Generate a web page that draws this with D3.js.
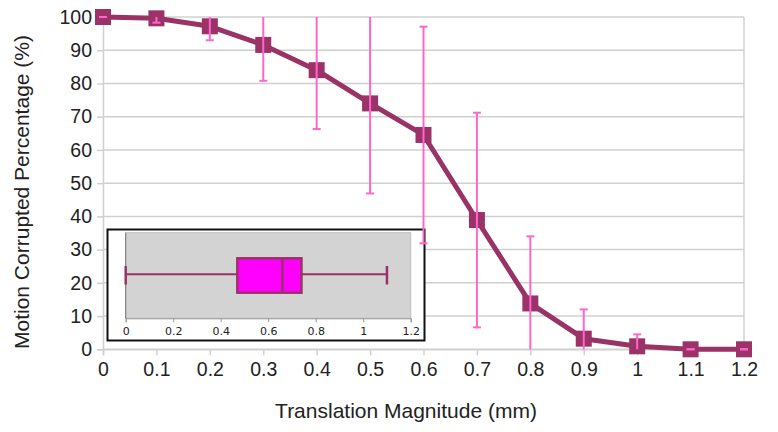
<!DOCTYPE html>
<html>
<head>
<meta charset="utf-8">
<script src="https://cdn.jsdelivr.net/npm/d3@7"></script>
<style>
  html, body { margin: 0; padding: 0; background: #fff; }
  svg { display: block; font-family: "Liberation Sans", Arial, sans-serif; }
</style>
</head>
<body>
<svg id="chart" width="778" height="432"></svg>
<script>
// ---- data ----
const magnitudes = [0, 0.1, 0.2, 0.3, 0.4, 0.5, 0.6, 0.7, 0.8, 0.9, 1.0, 1.1, 1.2];
const corruptedMean = [100, 99.6, 97.2, 91.6, 84.0, 74.0, 64.5, 38.9, 13.8, 3.2, 0.9, 0, 0];
const corruptedSD = [0, 1.3, 4.2, 10.8, 17.7, 27.1, 32.6, 32.3, 20.2, 8.8, 3.6, 0, 0];
const xTicks = [0, 0.1, 0.2, 0.3, 0.4, 0.5, 0.6, 0.7, 0.8, 0.9, 1, 1.1, 1.2];
const yTicks = [0, 10, 20, 30, 40, 50, 60, 70, 80, 90, 100];
const insetBox = { min: 0, q1: 0.47, median: 0.66, q3: 0.74, max: 1.10 };
const insetTicks = [0, 0.2, 0.4, 0.6, 0.8, 1, 1.2];
const xLabel = "Translation Magnitude (mm)";
const yLabel = "Motion Corrupted Percentage (%)";

const svg = d3.select("#chart");
const lineColor = "#993366";
const errColor = "#ff66cc";
const gridColor = "#d0d0d0";

const x = d3.scaleLinear().domain([0, 1.2]).range([103, 744]);
const y = d3.scaleLinear().domain([0, 100]).range([349.3, 17]);

// gridlines
svg.append("g").selectAll("line").data(yTicks).join("line")
  .attr("x1", x(0)).attr("x2", x(1.2))
  .attr("y1", d => y(d)).attr("y2", d => y(d))
  .attr("stroke", gridColor).attr("stroke-width", 1.5);
// right border
svg.append("line").attr("x1", x(1.2)).attr("x2", x(1.2)).attr("y1", y(100)).attr("y2", y(0))
  .attr("stroke", gridColor).attr("stroke-width", 1.5);

// axes
const xAxis = svg.append("g").attr("transform", `translate(0,${y(0)})`)
  .call(d3.axisBottom(x).tickValues(xTicks).tickFormat(d3.format("~g")).tickSize(6).tickPadding(7));
const yAxis = svg.append("g").attr("transform", `translate(${x(0)},0)`)
  .call(d3.axisLeft(y).tickValues(yTicks).tickSize(6).tickPadding(5));
[xAxis, yAxis].forEach(g => {
  g.select(".domain").attr("stroke", gridColor).attr("stroke-width", 1.5);
  g.selectAll(".tick line").attr("stroke", gridColor).attr("stroke-width", 1.5);
  g.selectAll(".tick text").attr("fill", "#222").style("font-size", "19.5px")
    .style("font-family", "'Liberation Sans', Arial, sans-serif");
});

// inset box plot
const inset = svg.append("g");
inset.append("rect").attr("x", 107.5).attr("y", 229.5).attr("width", 317).attr("height", 111)
  .attr("fill", "#fff").attr("stroke", "#111").attr("stroke-width", 2);
const ix = d3.scaleLinear().domain([0, 1.2]).range([125.7, 410.7]);
const iTop = 232.7, iBottom = 318.3;
inset.append("rect").attr("x", ix(0)).attr("y", iTop).attr("width", ix(1.2) - ix(0)).attr("height", iBottom - iTop)
  .attr("fill", "#d3d3d3").attr("stroke", "#bdbdbd").attr("stroke-width", 1);
const ixAxis = inset.append("g").attr("transform", `translate(0,${iBottom})`)
  .call(d3.axisBottom(ix).tickValues(insetTicks).tickFormat(d3.format("~g")).tickSize(4).tickPadding(5));
ixAxis.select(".domain").attr("stroke", "#999").attr("stroke-width", 1);
ixAxis.selectAll(".tick line").attr("stroke", "#999");
ixAxis.selectAll(".tick text").attr("fill", "#222").style("font-size", "11px")
  .style("font-family", "'DejaVu Sans', sans-serif");
inset.append("line").attr("x1", ix(0)).attr("x2", ix(0)).attr("y1", iTop).attr("y2", iBottom)
  .attr("stroke", "#777").attr("stroke-width", 1);
const wy = 274.3;
inset.append("line").attr("x1", ix(insetBox.min)).attr("x2", ix(insetBox.q1)).attr("y1", wy).attr("y2", wy)
  .attr("stroke", lineColor).attr("stroke-width", 2);
inset.append("line").attr("x1", ix(insetBox.q3)).attr("x2", ix(insetBox.max)).attr("y1", wy).attr("y2", wy)
  .attr("stroke", lineColor).attr("stroke-width", 2);
[insetBox.min, insetBox.max].forEach(v => {
  inset.append("line").attr("x1", ix(v)).attr("x2", ix(v)).attr("y1", 266).attr("y2", 284.5)
    .attr("stroke", lineColor).attr("stroke-width", 2.5);
});
inset.append("rect").attr("x", ix(insetBox.q1)).attr("y", 258.3)
  .attr("width", ix(insetBox.q3) - ix(insetBox.q1)).attr("height", 34.4)
  .attr("fill", "#ff00ff").attr("stroke", lineColor).attr("stroke-width", 2.5);
inset.append("line").attr("x1", ix(insetBox.median)).attr("x2", ix(insetBox.median)).attr("y1", 258.3).attr("y2", 292.7)
  .attr("stroke", lineColor).attr("stroke-width", 2.5);

// series line
const pts = magnitudes.map((m, i) => ({ m, v: corruptedMean[i], sd: corruptedSD[i] }));
svg.append("path").datum(pts)
  .attr("d", d3.line().x(d => x(d.m)).y(d => y(d.v)))
  .attr("fill", "none").attr("stroke", lineColor).attr("stroke-width", 5)
  .attr("stroke-linejoin", "round");
const ms = 16;
svg.append("g").selectAll("rect").data(pts).join("rect")
  .attr("x", d => x(d.m) - ms / 2).attr("y", d => y(d.v) - ms / 2)
  .attr("width", ms).attr("height", ms).attr("fill", "#9b3368");

// error bars (clipped to plot range)
const eb = svg.append("g");
const capW = 8;
pts.forEach(d => {
  const lo = d.v - d.sd, hi = d.v + d.sd;
  const loC = Math.max(0, lo), hiC = Math.min(100, hi);
  if (d.sd > 0) {
    eb.append("line").attr("x1", x(d.m)).attr("x2", x(d.m)).attr("y1", y(loC)).attr("y2", y(hiC))
      .attr("stroke", errColor).attr("stroke-width", 2);
  }
  [lo, hi].forEach(v => {
    if (v >= 0 && v <= 100) {
      eb.append("line").attr("x1", x(d.m) - capW / 2).attr("x2", x(d.m) + capW / 2)
        .attr("y1", y(v)).attr("y2", y(v)).attr("stroke", errColor).attr("stroke-width", 2);
    }
  });
});

// axis labels
svg.append("text").attr("x", 406).attr("y", 418).attr("text-anchor", "middle")
  .attr("fill", "#222").style("font-size", "21px").text(xLabel);
svg.append("text").attr("transform", "translate(29,192) rotate(-90)").attr("text-anchor", "middle")
  .attr("fill", "#222").style("font-size", "21px").text(yLabel);
</script>
</body>
</html>
